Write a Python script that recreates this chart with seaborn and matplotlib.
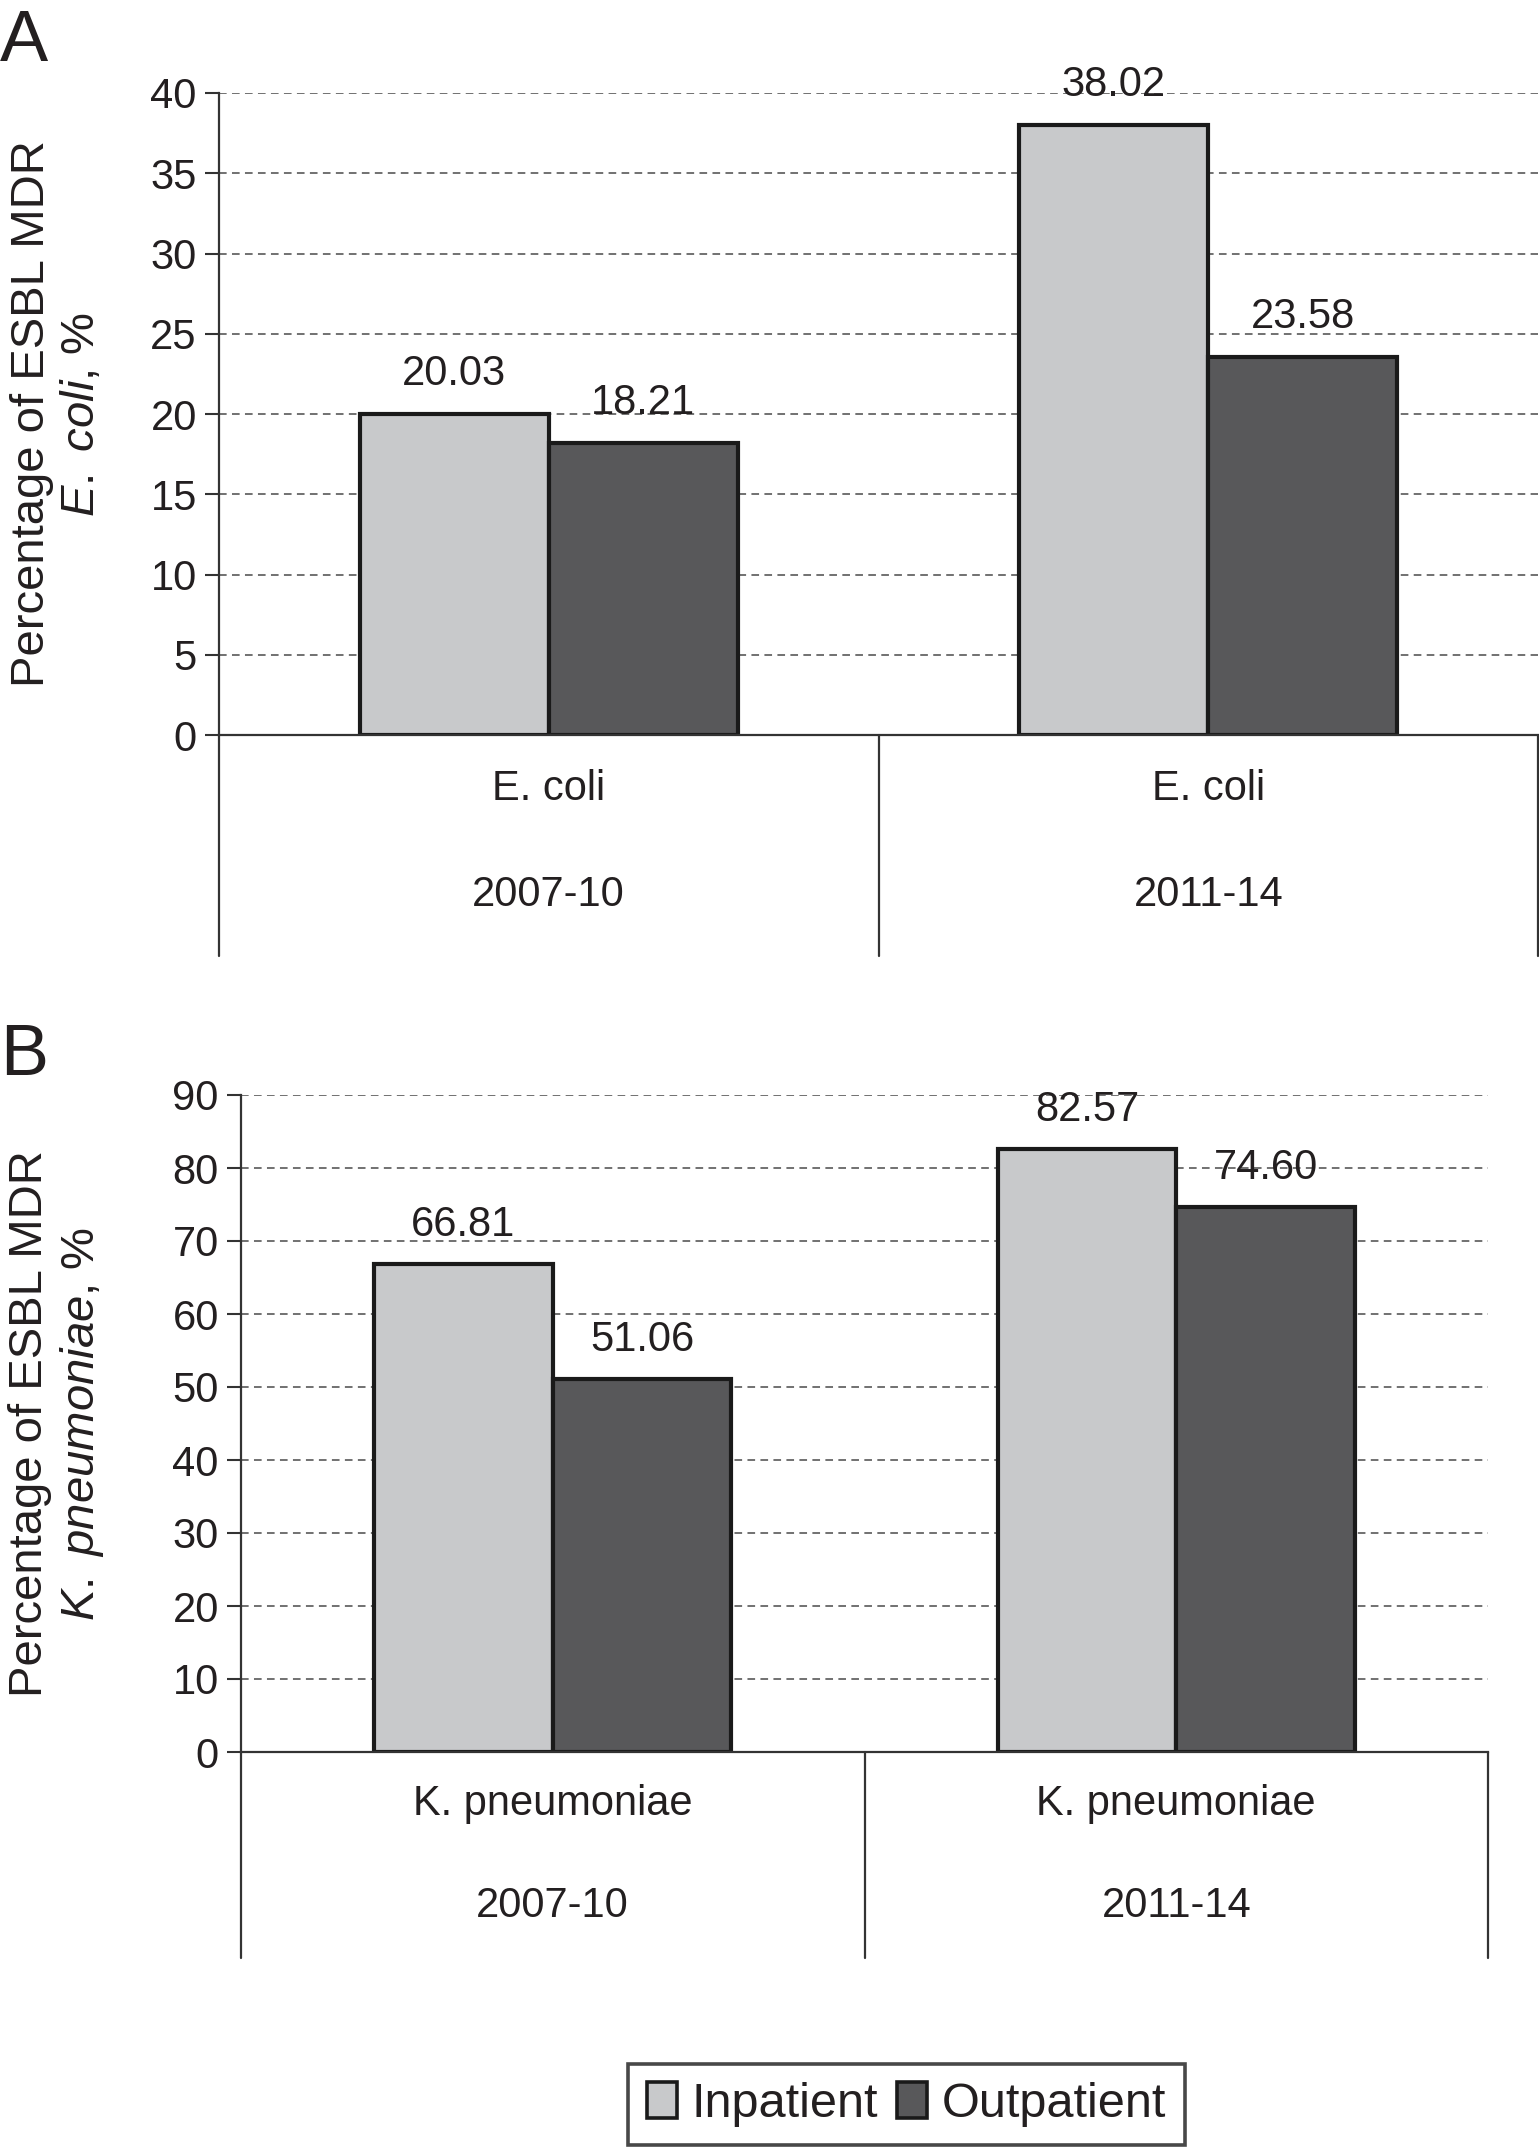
import matplotlib
matplotlib.use("Agg")
import matplotlib.pyplot as plt
import matplotlib.transforms as mtransforms
from matplotlib.patches import Patch
import seaborn as sns
import pandas as pd

# ---------------- data ----------------
periods = ["2007-10", "2011-14"]
settings = ["Inpatient", "Outpatient"]
ecoli_inpatient = [20.03, 38.02]
ecoli_outpatient = [18.21, 23.58]
kpn_inpatient = [66.81, 82.57]
kpn_outpatient = [51.06, 74.60]
organism_a = "E. coli"
organism_b = "K. pneumoniae"
yticks_a = [0, 5, 10, 15, 20, 25, 30, 35, 40]
yticks_b = [0, 10, 20, 30, 40, 50, 60, 70, 80, 90]

# ---------------- style ----------------
sns.set_style("white")
plt.rcParams["font.family"] = ["Liberation Sans", "DejaVu Sans"]
plt.rcParams["mathtext.fontset"] = "custom"
plt.rcParams["mathtext.rm"] = "Liberation Sans"
plt.rcParams["mathtext.it"] = "Liberation Sans:italic"
plt.rcParams["mathtext.bf"] = "Liberation Sans:bold"

TXT = "#231f20"
LIGHT = "#c8c9cb"
DARK = "#58585a"
EDGE = "#1a1a1a"
FS = 30

W, H = 1539, 2151
fig = plt.figure(figsize=(W / 100, H / 100), dpi=100)


def make_df(inp, outp):
    rows = []
    for p, v in zip(periods, inp):
        rows.append({"period": p, "setting": settings[0], "value": v})
    for p, v in zip(periods, outp):
        rows.append({"period": p, "setting": settings[1], "value": v})
    return pd.DataFrame(rows)


def panel(rect, inp, outp, ymax, yticks, organism, ylabel2, ext, cat_y1, cat_y2, label_x):
    ax = fig.add_axes(rect)
    df = make_df(inp, outp)
    sns.barplot(data=df, x="period", y="value", hue="setting",
                palette=[LIGHT, DARK], width=0.573, edgecolor=EDGE,
                linewidth=3.0, saturation=1, ax=ax, legend=False, errorbar=None)
    ax.set_ylim(0, ymax)
    ax.set_xlim(-0.5, 1.5)
    ax.set_yticks(yticks)
    ax.set_yticklabels([str(t) for t in yticks], fontsize=FS, color=TXT)
    ax.tick_params(axis="y", direction="out", length=10, width=1.5, color="#333333",
                   pad=6, left=True)
    ax.tick_params(axis="x", bottom=False, labelbottom=False)
    ax.set_xlabel("")
    # grid
    ax.set_axisbelow(True)
    for t in yticks[1:]:
        ax.axhline(t, color="#4a4a4a", lw=1.1, ls=(0, (5, 3.5)), zorder=0)
    for s in ["top", "right"]:
        ax.spines[s].set_visible(False)
    for s in ["left", "bottom"]:
        ax.spines[s].set_color("#333333")
        ax.spines[s].set_linewidth(1.6)
    # category area lines
    trans = mtransforms.blended_transform_factory(ax.transData, ax.transAxes)
    ax.plot([0, 0], [0, -ext], transform=ax.transAxes, color="#333333", lw=1.6, clip_on=False)
    ax.plot([1, 1], [0, -ext], transform=ax.transAxes, color="#333333", lw=1.6, clip_on=False)
    ax.plot([0.5, 0.5], [0, -ext], transform=trans, color="#333333", lw=1.6, clip_on=False)
    for i, p in enumerate(periods):
        ax.text(i, cat_y1, organism, transform=trans, ha="center", va="center",
                fontsize=FS, color=TXT)
        ax.text(i, cat_y2, p, transform=trans, ha="center", va="center",
                fontsize=FS, color=TXT)
    # value labels
    for c in ax.containers:
        ax.bar_label(c, fmt="%.2f", padding=14, fontsize=FS, color=TXT)
    # y label
    ax.set_ylabel("Percentage of ESBL MDR\n" + ylabel2, fontsize=34, color=TXT,
                  linespacing=1.15, va="center", ha="center")
    ax.yaxis.set_label_coords(label_x, 0.5)
    return ax


# Panel A
ax_a = panel([219 / W, 1 - 735 / H, (1538 - 219) / W, (735 - 93) / H],
             ecoli_inpatient, ecoli_outpatient, 40, yticks_a, organism_a,
             r"$\mathit{E.}$ $\mathit{coli}$, %", 221 / 642, -54 / 642, -160 / 642,
             (57 - 219) / (1538 - 219))

# Panel B
ax_b = panel([241 / W, 1 - 1752 / H, (1488 - 241) / W, (1752 - 1095) / H],
             kpn_inpatient, kpn_outpatient, 90, yticks_b, organism_b,
             r"$\mathit{K.}$ $\mathit{pneumoniae}$, %", 206 / 657, -52 / 657, -154 / 657,
             (57 - 241) / (1488 - 241))

# Panel letters
fig.text(0 / W, 1 - 61 / H, "A", fontsize=52, color=TXT, ha="left", va="baseline")
fig.text(0 / W, 1 - 1075 / H, "B", fontsize=52, color=TXT, ha="left", va="baseline")

# Legend
handles = [Patch(facecolor=LIGHT, edgecolor=EDGE, linewidth=2.6, label=settings[0]),
           Patch(facecolor=DARK, edgecolor=EDGE, linewidth=2.6, label=settings[1])]
leg = fig.legend(handles=handles, loc="center", ncol=2,
                 bbox_to_anchor=((639 + 1174) / 2 / W, 1 - (2061 + 2148) / 2 / H),
                 fontsize=35, frameon=True, fancybox=False, handlelength=0.62,
                 handleheight=0.74, handletextpad=0.3, columnspacing=0.4,
                 borderpad=0.38, borderaxespad=0)
leg._legend_box.sep = 0
leg.get_frame().set_edgecolor(EDGE)
leg.get_frame().set_linewidth(2.6)
for t in leg.get_texts():
    t.set_color(TXT)

fig.savefig("out.png", dpi=100)
